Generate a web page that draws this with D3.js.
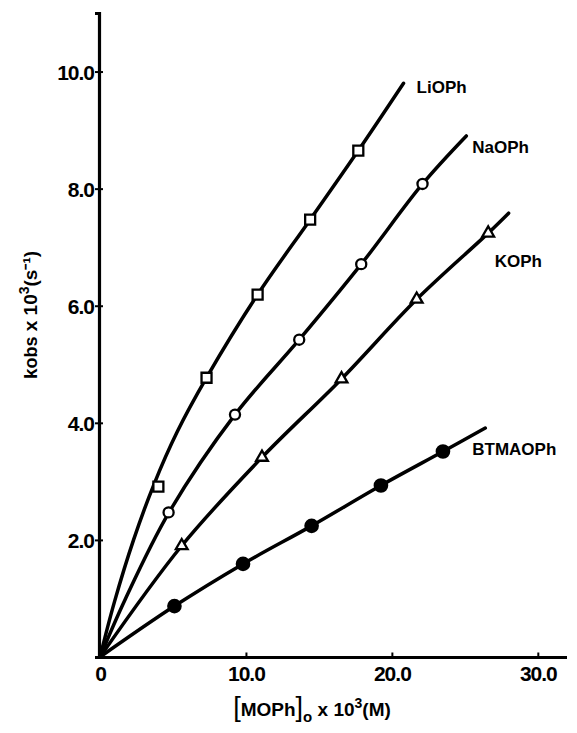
<!DOCTYPE html>
<html>
<head>
<meta charset="utf-8">
<script src="https://cdn.jsdelivr.net/npm/d3@7"></script>
<style>
  body { margin: 0; background: #fff; }
  text { font-family: "Liberation Sans", Arial, sans-serif; font-weight: bold; fill: #000; }
</style>
</head>
<body>
<svg id="svg"></svg>
<script>
'use strict';

// ================================= data ======================================
var seriesNames = ["LiOPh", "NaOPh", "KOPh", "BTMAOPh"];

// measured points (markers)
var liX = [4.0, 7.3, 10.8, 14.4, 17.7];
var liY = [2.91, 4.77, 6.19, 7.47, 8.65];
var naX = [4.7, 9.25, 13.65, 17.9, 22.1];
var naY = [2.47, 4.14, 5.42, 6.71, 8.08];
var kX = [5.6, 11.1, 16.55, 21.7, 26.6];
var kY = [1.90, 3.41, 4.75, 6.11, 7.24];
var btX = [5.1, 9.8, 14.5, 19.25, 23.5];
var btY = [0.87, 1.59, 2.24, 2.93, 3.51];

// drawn curves
var liCurve = [[0, 0], [1.0, 0.95], [2.3, 2.0], [3.7, 2.95], [5.3, 3.85], [7.3, 4.77], [10.8, 6.19], [14.4, 7.47], [17.7, 8.65], [20.8, 9.8]];
var naCurve = [[0, 0], [1.7, 0.97], [4.73, 2.47], [9.25, 4.14], [13.65, 5.42], [17.9, 6.71], [22.1, 8.08], [25.1, 8.9]];
var kCurve = [[0, 0], [5.6, 1.9], [11.1, 3.41], [16.55, 4.75], [21.7, 6.11], [26.6, 7.24], [28.0, 7.58]];
var btCurve = [[0, 0], [5.1, 0.87], [9.8, 1.59], [14.5, 2.24], [19.25, 2.93], [23.5, 3.51], [26.4, 3.91]];

var xTicks = [0, 10, 20, 30];
var xTickLabels = ["0", "10.0", "20.0", "30.0"];
var yTicks = [2, 4, 6, 8, 10];
var yTickLabels = ["2.0", "4.0", "6.0", "8.0", "10.0"];

// ================================= setup ======================================
var width = 577;
var height = 733;

var svg = d3.select("#svg")
    .attr("width", width)
    .attr("height", height);

var x = d3.scaleLinear().domain([0, 32]).range([100, 567]);
var y = d3.scaleLinear().domain([0, 11]).range([657, 13]);

// y axis - ticks cross the line
var yAxis = svg.append("g")
    .attr("transform", "translate(99,0)")
    .call(d3.axisLeft(y).tickValues(yTicks).tickSizeOuter(0).tickSize(4)
        .tickFormat((d, i) => yTickLabels[i]));
yAxis.select(".domain").attr("stroke-width", 3.2).attr("stroke", "#000");
yAxis.selectAll(".tick line").attr("x1", -4).attr("x2", 4).attr("stroke-width", 2).attr("stroke", "#000");
yAxis.selectAll(".tick text")
    .attr("x", -5)
    .attr("dy", "0.36em")
    .style("font-size", "21px")
    .style("letter-spacing", "-1px");

// x axis - small upward ticks
var xAxis = svg.append("g")
    .attr("transform", "translate(0,657.5)")
    .call(d3.axisBottom(x).tickValues(xTicks).tickSizeOuter(0).tickSize(0)
        .tickFormat((d, i) => xTickLabels[i]));
xAxis.select(".domain").attr("stroke-width", 3.2).attr("stroke", "#000").attr("d", "M98,0H567");
xAxis.selectAll(".tick line").attr("y1", -5).attr("y2", 0).attr("stroke-width", 2).attr("stroke", "#000")
    .filter(d => d === 0).remove();
xAxis.selectAll(".tick text")
    .attr("y", 9)
    .attr("dy", "0.71em")
    .style("font-size", "21px")
    .style("letter-spacing", "-1px");

// ================================= titles ======================================
var xTitle = svg.append("text")
    .attr("x", 312)
    .attr("y", 716)
    .attr("text-anchor", "middle")
    .style("font-size", "19px");
xTitle.append("tspan").text("[").style("font-size", "27px").style("font-weight", "normal");
xTitle.append("tspan").text("MOPh");
xTitle.append("tspan").text("]").style("font-size", "27px").style("font-weight", "normal");
xTitle.append("tspan").text("o").attr("dy", 6).style("font-size", "15px");
xTitle.append("tspan").text(" x 10").attr("dy", -6);
xTitle.append("tspan").text("3").attr("dy", -8).style("font-size", "14px");
xTitle.append("tspan").text("(M)").attr("dy", 8);

var yTitle = svg.append("text")
    .attr("transform", "translate(37,315) rotate(-90)")
    .attr("text-anchor", "middle")
    .style("font-size", "19px");
yTitle.append("tspan").text("k");
yTitle.append("tspan").text("obs").style("font-size", "18px");
yTitle.append("tspan").text(" x 10");
yTitle.append("tspan").text("3").attr("dy", -8).style("font-size", "14px");
yTitle.append("tspan").text("(s").attr("dy", 8);
yTitle.append("tspan").text("\u207B\u00B9").style("font-size", "19px");
yTitle.append("tspan").text(")");

// ================================= series ======================================
var series = [
    { name: seriesNames[0], xs: liX, ys: liY, curve: liCurve, marker: "square" },
    { name: seriesNames[1], xs: naX, ys: naY, curve: naCurve, marker: "circle" },
    { name: seriesNames[2], xs: kX, ys: kY, curve: kCurve, marker: "triangle" },
    { name: seriesNames[3], xs: btX, ys: btY, curve: btCurve, marker: "dot" }
];

// label offsets from the curve end, in pixels
var labelOffsets = {
    "LiOPh": [13, 10],
    "NaOPh": [6, 17],
    "KOPh": [-14, 54],
    "BTMAOPh": [-13, 27]
};

var line = d3.line()
    .x(d => x(d[0]))
    .y(d => y(d[1]))
    .curve(d3.curveCatmullRom.alpha(0.5));

svg.append("g")
    .selectAll("path")
    .data(series)
    .join("path")
    .attr("d", d => line(d.curve))
    .attr("fill", "none")
    .attr("stroke", "#000")
    .attr("stroke-width", 3.5)
    .attr("stroke-linecap", "round");

var symbols = {
    square: d3.symbol().type(d3.symbolSquare).size(100),
    circle: d3.symbol().type(d3.symbolCircle).size(80),
    triangle: d3.symbol().type(d3.symbolTriangle).size(60),
    dot: d3.symbol().type(d3.symbolCircle).size(120)
};

series.forEach(s => {
    svg.append("g")
        .selectAll("path")
        .data(s.xs.map((v, i) => [v, s.ys[i]]))
        .join("path")
        .attr("transform", d => "translate(" + x(d[0]) + "," + y(d[1]) + ")")
        .attr("d", symbols[s.marker])
        .attr("fill", s.marker === "dot" ? "#000" : "#fff")
        .attr("stroke", "#000")
        .attr("stroke-width", 2.3);

    let end = s.curve[s.curve.length - 1];
    let off = labelOffsets[s.name];
    svg.append("text")
        .attr("x", x(end[0]) + off[0])
        .attr("y", y(end[1]) + off[1])
        .style("font-size", "17px")
        .text(s.name);
});
</script>
</body>
</html>
